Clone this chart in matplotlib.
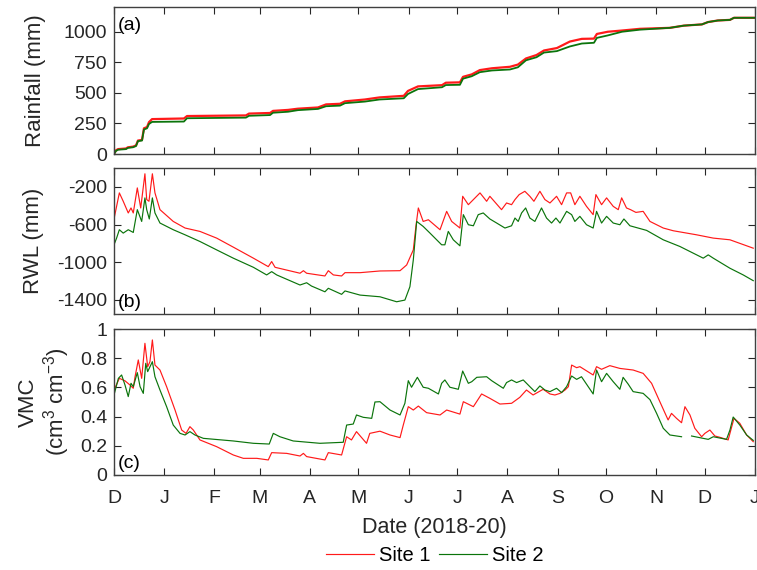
import numpy as np
import pandas as pd
import matplotlib
matplotlib.use('Agg')
import matplotlib.pyplot as plt
import matplotlib.dates as mdates
from matplotlib.ticker import FormatStrFormatter, FuncFormatter

plt.rcParams['font.family'] = ['Liberation Sans', 'DejaVu Sans']
plt.rcParams['mathtext.fontset'] = 'custom'
plt.rcParams['mathtext.rm'] = 'Liberation Sans'
plt.rcParams['mathtext.it'] = 'Liberation Sans:italic'
plt.rcParams['axes.unicode_minus'] = False

# --- data: days since 1 Dec 2018 ---
START = pd.Timestamp('2018-12-01')
END = pd.Timestamp('2020-01-01')

# (a) cumulative rainfall (mm)
rain_days = [0, 1.2, 2.5, 7.4, 8.6, 11.7, 13.6, 14.8, 17.3, 18.5, 20.4, 21.6, 23.5,
             43.2, 45.1, 81.5, 83.4, 96.4, 98.2, 107.5, 113.6, 126, 131, 139.6, 142.7,
             155, 164, 179, 181.6, 187.8, 202.6, 205, 213.7, 215.6, 221, 226, 233.5,
             244.6, 249.5, 254.5, 261, 265.6, 273.6, 281.6, 289, 296.5, 298.3, 305,
             313.8, 324.9, 343.4, 352, 363.2, 366.9, 373, 380.5, 383, 396]
rain_site1 = [0, 30, 40, 45, 55, 60, 70, 110, 115, 210, 220, 260, 285,
              290, 310, 315, 330, 335, 352, 360, 370, 380, 405, 410, 430,
              445, 462, 475, 515, 552, 562, 582, 585, 630, 650, 685, 700,
              712, 730, 780, 808, 845, 865, 918, 940, 942, 980, 998,
              1008, 1022, 1030, 1048, 1058, 1077, 1090, 1095, 1112, 1112]
rain_site2 = [0, 25, 35, 40, 50, 55, 65, 105, 110, 200, 210, 245, 262,
              265, 292, 297, 312, 318, 337, 345, 358, 368, 390, 395, 415,
              428, 445, 455, 490, 530, 545, 563, 565, 615, 635, 668, 682,
              690, 708, 765, 790, 828, 840, 878, 902, 908, 948, 968,
              998, 1015, 1030, 1048, 1058, 1077, 1090, 1095, 1112, 1112]

# (b) RWL (mm)
rwl_days_s1 = [0, 3.3, 5.7, 8.8, 10.5, 11.9, 14.4, 16.5, 19.1, 20.2, 21.6, 23.7, 25.3,
               28.4, 36.6, 43.9, 53.1, 63.4, 73.7, 86.1, 95.3, 97.4, 99.5, 114.9, 117,
               119, 130.3, 132.4, 135.5, 140.6, 142.7, 152, 164.3, 176.7, 180.8, 184.9,
               186.5, 188, 191, 194.2, 201.4, 205.5, 208.6, 213.7, 215.4, 218.9, 226.1,
               230.2, 232.2, 239.4, 242.5, 245.6, 247.7, 250.3, 253.8, 256.9, 259.4,
               263.1, 266.2, 269.3, 273.4, 276.5, 279.6, 282.1, 284.7, 287.8, 291.9,
               296, 297.7, 301.2, 304.3, 308.4, 311.5, 313.6, 316.6, 319.1, 322.4,
               326.9, 331.1, 339.3, 345.5, 359.9, 370.2, 380.5, 394.9]
rwl_site1 = [-541, -264, -353, -477, -424, -477, -211, -424, -61, -335, -353, -61, -264,
             -442, -567, -637, -673, -744, -840, -957, -1047, -993, -1054, -1117, -1090,
             -1117, -1146, -1090, -1135, -1146, -1111, -1111, -1093, -1090, -1029, -869,
             -620, -424, -567, -549, -655, -460, -567, -637, -300, -389, -264,
             -353, -300, -442, -371, -389, -335, -282, -247, -300, -353,
             -247, -335, -371, -300, -389, -264, -264, -389, -300, -407,
             -495, -282, -389, -317, -407, -442, -317, -424, -442, -471,
             -460, -567, -637, -666, -709, -744, -762, -851]
rwl_days_s2 = [0, 1.6, 3.3, 5.7, 8.8, 11.9, 14.4, 17.1, 19.1, 20.2, 21.8, 23.7, 25.3,
               28.4, 36.6, 43.9, 53.1, 63.4, 73.7, 86.1, 94.3, 97.4, 100.5, 114.9, 119,
               122, 130.3, 132.4, 140.6, 142.7, 152, 164.3, 174.6, 179.7, 182.8, 184.9,
               187, 191, 195.2, 202.4, 204.4, 206.5, 209.6, 213.7, 215.8, 218.9, 222,
               225, 228.1, 232.2, 236.4, 241.5, 245.6, 247.7, 249.7, 251.8, 254.3,
               256.9, 260, 264.1, 267.2, 270.3, 273, 275.5, 279.6, 282.7, 284.7,
               287.8, 291.9, 296, 298.1, 301.2, 304.3, 308.4, 312.5, 315, 318.7,
               329, 339.3, 349.6, 364, 367.1, 370.2, 380.5, 388.7, 394.9]
rwl_site2 = [-815, -744, -655, -691, -655, -684, -442, -567, -317, -442, -541, -317, -477,
             -584, -655, -709, -780, -869, -957, -1054, -1135, -1100, -1135, -1242, -1218,
             -1253, -1314, -1277, -1341, -1305, -1349, -1367, -1420, -1402, -1260, -975,
             -567, -620, -691, -815, -815, -673, -762, -826, -495, -602, -613,
             -495, -477, -541, -584, -637, -613, -531, -567, -477, -424,
             -531, -567, -424, -531, -584, -531, -584, -460, -495, -567,
             -513, -602, -637, -460, -584, -513, -584, -602, -541, -613,
             -662, -762, -833, -957, -922, -957, -1064, -1135, -1196]

# (c) VMC (cm3 cm-3)
vmc_days_s1 = [0, 3.3, 6.8, 9.9, 11.9, 13, 15, 17.1, 19.1, 20.8, 22.2, 23.7, 25.3,
               28.4, 32.5, 37.7, 41.8, 44.5, 46.9, 49, 53.1, 63.4, 73.7, 79.9, 88.2,
               95.3, 97.4, 106.7, 114.9, 117, 119, 130.3, 132.4, 140.6, 143.7, 146.7,
               149.8, 156, 158, 164.3, 170.5, 176.7, 178.7, 181.8, 184.9, 188, 193.1,
               201.4, 205.5, 213.7, 215.8, 222, 227.1, 232.2, 238.4, 245.6, 250.7,
               254.8, 258.9, 265.1, 269.3, 272.4, 275.5, 278.6, 280.7, 282.7, 285.8,
               287.8, 296, 298.1, 301.2, 306.3, 312.5, 320.7, 326.9, 332.1, 337.2,
               342.3, 344.4, 347.5, 350.6, 352.7, 355.8, 358.8, 363, 365, 368.1,
               371.2, 374.3, 379.4, 383, 386.6, 390.8, 394.9]
vmc_site1 = [0.582, 0.662, 0.645, 0.616, 0.594, 0.673, 0.788, 0.662, 0.902, 0.742, 0.776, 0.925, 0.753,
             0.719, 0.605, 0.445, 0.308, 0.285, 0.331, 0.308, 0.240, 0.194, 0.137, 0.114, 0.114,
             0.103, 0.153, 0.148, 0.130, 0.148, 0.126, 0.103, 0.153, 0.137, 0.262, 0.240,
             0.297, 0.217, 0.285, 0.300, 0.274, 0.256, 0.342, 0.468, 0.445, 0.472, 0.427,
             0.411, 0.445, 0.417, 0.502, 0.468, 0.555, 0.525, 0.486, 0.491, 0.532,
             0.582, 0.548, 0.587, 0.555, 0.548, 0.559, 0.582, 0.605, 0.753, 0.735,
             0.742, 0.685, 0.742, 0.724, 0.749, 0.730, 0.719, 0.696, 0.628, 0.502,
             0.377, 0.422, 0.388, 0.358, 0.468, 0.411, 0.320, 0.262, 0.285, 0.308,
             0.267, 0.258, 0.240, 0.388, 0.354, 0.274, 0.228]
vmc_days_s2 = [0, 2.7, 4.7, 6.8, 8.8, 10.5, 11.9, 14.4, 16.1, 18.1, 19.6, 20.8, 23.7, 25.3,
               28.4, 32.5, 36.6, 40.8, 43.9, 46.9, 50, 55.2, 73.7, 86.1, 95.9, 98.4,
               102.5, 110.7, 127.2, 141.6, 143.7, 147.8, 149.8, 154, 159.2, 161.2, 164.3,
               170.5, 176.7, 179.7, 181.8, 183.8, 187.4, 191, 194.2, 200.4, 202.4, 204.4,
               207.5, 212.7, 215.4, 218.9, 221, 224.1, 230.2, 233.3, 240.5, 242.5, 245.6,
               248.7, 252.8, 256.9, 260, 263.1, 266.2, 269.3, 273.4, 276.5, 279.6, 282.7,
               285.8, 288.8, 296, 298.1, 301.2, 304.3, 308.4, 312.5, 314.5, 317.6, 320.7,
               326.9, 331.1, 335.2, 339.3, 343.4, 350.6, 352, 356.8, 367.1, 370.2, 378.4,
               380.5, 382.5, 386.6, 390.8, 394.9]
vmc_site2 = [0.548, 0.662, 0.685, 0.616, 0.537, 0.628, 0.605, 0.701, 0.605, 0.559, 0.765, 0.708, 0.776, 0.673,
             0.582, 0.468, 0.342, 0.285, 0.274, 0.297, 0.274, 0.251, 0.233, 0.217, 0.212, 0.285,
             0.262, 0.233, 0.217, 0.224, 0.342, 0.349, 0.411, 0.395, 0.388, 0.500, 0.502,
             0.445, 0.411, 0.491, 0.646, 0.601, 0.669, 0.601, 0.594, 0.555, 0.628, 0.651,
             0.601, 0.587, 0.712, 0.628, 0.639, 0.669, 0.673, 0.646, 0.594, 0.633, 0.651,
             0.633, 0.651, 0.605, 0.571, 0.610, 0.582, 0.571, 0.594, 0.564, 0.605, 0.678,
             0.655, 0.673, 0.555, 0.719, 0.639, 0.696, 0.639, 0.587, 0.669, 0.623, 0.571,
             0.559, 0.516, 0.422, 0.320, 0.274, 0.262, np.nan, 0.267, 0.244, 0.262, 0.244,
             0.308, 0.397, 0.342, 0.274, 0.237]


def to_dates(days):
    return START + pd.to_timedelta(days, unit='D')


RED = '#ff1a1a'
GREEN = '#0b740b'

fig = plt.figure(figsize=(7.57, 5.70), dpi=100)
left, width = 0.1506, 0.8468
ax1 = fig.add_axes([left, 0.7298, width, 0.2579])
ax2 = fig.add_axes([left, 0.4491, width, 0.2561])
ax3 = fig.add_axes([left, 0.1667, width, 0.2561])

ax1.plot(to_dates(rain_days), rain_site1, color=RED, lw=1.6)
ax1.plot(to_dates(rain_days), rain_site2, color=GREEN, lw=1.3)
ax2.plot(to_dates(rwl_days_s1), rwl_site1, color=RED, lw=0.85)
ax2.plot(to_dates(rwl_days_s2), rwl_site2, color=GREEN, lw=0.85)
l1, = ax3.plot(to_dates(vmc_days_s1), vmc_site1, color=RED, lw=0.85)
l2, = ax3.plot(to_dates(vmc_days_s2), vmc_site2, color=GREEN, lw=0.85)

ax1.set_ylim(0, 1200)
ax1.set_yticks([0, 250, 500, 750, 1000])
ax2.set_ylim(-1550, 0)
ax2.set_yticks([-1400, -1000, -600, -200])
ax3.set_ylim(0, 1)
ax3.set_yticks([0, 0.2, 0.4, 0.6, 0.8, 1])
ax3.yaxis.set_major_formatter(FormatStrFormatter('%g'))

month_fmt = FuncFormatter(lambda x, pos: mdates.num2date(x).strftime('%b')[0])
for ax in (ax1, ax2, ax3):
    ax.set_xlim(START, END)
    ax.xaxis.set_major_locator(mdates.MonthLocator())
    ax.xaxis.set_major_formatter(month_fmt)
    ax.tick_params(direction='in', top=True, right=True, length=5, width=0.8,
                   labelsize=14, colors='#262626', pad=5)
    ax.tick_params(axis='x', pad=11)
    for s in ax.spines.values():
        s.set_color('#404040')
        s.set_linewidth(1.0)
ax1.tick_params(labelbottom=False)
ax2.tick_params(labelbottom=False)

ax1.set_ylabel('Rainfall (mm)', fontsize=16, color='#262626')
ax2.set_ylabel('RWL (mm)', fontsize=16, color='#262626')
ax3.set_ylabel('VMC\n(cm$^3$ cm$^{-3}$)', fontsize=16, color='#262626', linespacing=1.1)
ax1.yaxis.set_label_coords(-0.106, 0.5)
ax2.yaxis.set_label_coords(-0.109, 0.5)
ax3.yaxis.set_label_coords(-0.066, 0.5)
ax3.set_xlabel('Date (2018-20)', fontsize=15.5, color='#262626', labelpad=7)

ax1.text(0.006, 0.93, '(a)', transform=ax1.transAxes, fontsize=14, va='top', ha='left')
ax2.text(0.006, 0.02, '(b)', transform=ax2.transAxes, fontsize=14, va='bottom', ha='left')
ax3.text(0.006, 0.02, '(c)', transform=ax3.transAxes, fontsize=14, va='bottom', ha='left')

fig.legend([l1, l2], ['Site 1', 'Site 2'], loc='center', bbox_to_anchor=(0.574, 0.025),
           ncol=2, frameon=False, fontsize=14.5, handlelength=2.4, handletextpad=0.25,
           columnspacing=0.4)

fig.savefig('out.png', dpi=100)
